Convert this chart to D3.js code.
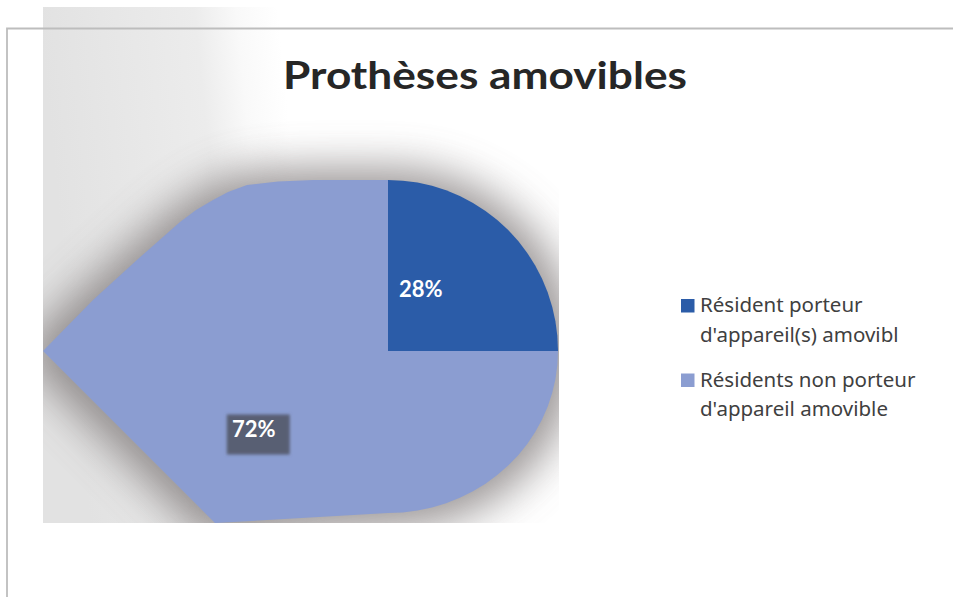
<!DOCTYPE html>
<html>
<head>
<meta charset="utf-8">
<script src="https://cdn.jsdelivr.net/npm/d3@7/dist/d3.min.js"></script>
<style>
  body { margin: 0; background: #fff; }
  svg { display: block; font-family: Lato, "Open Sans", sans-serif; }
</style>
</head>
<body>
<div id="chart"></div>
<script>
const title = "Prothèses amovibles";
const categories = [
  ["Résident porteur", "d'appareil(s) amovibl"],
  ["Résidents non porteur", "d'appareil amovible"]
];
const values = [28, 72];
const colors = ["#2b5ca8", "#8b9dd1"];

const width = 953, height = 597;
const plot = { x: 43, y: 7, w: 516, h: 516 };
const cx = 388, cy = 351;

const svg = d3.select("#chart").append("svg")
  .attr("width", width)
  .attr("height", height);

const defs = svg.append("defs");

const bg = defs.append("linearGradient").attr("id", "bg")
  .attr("x1", 0).attr("y1", 0.1).attr("x2", 1).attr("y2", 0);
[[0, "#e2e2e2"], [0.3, "#ececec"], [0.38, "#f9f9f9"], [0.46, "#ffffff"], [1, "#ffffff"]]
  .forEach(s => bg.append("stop").attr("offset", s[0]).attr("stop-color", s[1]));

defs.append("clipPath").attr("id", "plotClip")
  .append("rect").attr("x", plot.x).attr("y", plot.y).attr("width", plot.w).attr("height", plot.h);

defs.append("filter").attr("id", "shadow")
  .attr("x", -0.3).attr("y", -0.3).attr("width", 1.6).attr("height", 1.6)
  .append("feGaussianBlur").attr("stdDeviation", 20);

defs.append("filter").attr("id", "soft")
  .attr("x", -0.2).attr("y", -0.2).attr("width", 1.4).attr("height", 1.4)
  .append("feGaussianBlur").attr("stdDeviation", 1.6);

// plot area background
svg.append("rect")
  .attr("x", plot.x).attr("y", plot.y)
  .attr("width", plot.w).attr("height", plot.h)
  .attr("fill", "url(#bg)");

// frame lines
svg.append("path")
  .attr("d", `M7,${height}V28.5H${width}`)
  .attr("fill", "none")
  .attr("stroke", "#bdbdbd")
  .attr("stroke-width", 1.8);

// outline of the (stretched) pie, relative to the centre, clockwise from 12 o'clock
const rad = a => a * Math.PI / 180;
const outline = [
  ...d3.range(0, 90, 5).map(a => [170 * Math.sin(rad(a)), -171 * Math.cos(rad(a))]),
  ...d3.range(90, 180, 5).map(a => [170 * Math.sin(rad(a)), -162 * Math.cos(rad(a))]),
  [0, 162], [-173, 172], [-345, 0],
  [-295, -51], [-250, -92], [-208, -129], [-192, -141], [-175, -151],
  [-160, -159], [-141, -166], [-110, -169.5], [-75, -171], [-40, -171]
];

const angleOf = p => {
  let a = Math.atan2(p[0], -p[1]);
  return a < 0 ? a + 2 * Math.PI : a;
};

function rayHit(phi) {
  const dx = Math.sin(phi), dy = -Math.cos(phi);
  for (let i = 0; i < outline.length; i++) {
    const p = outline[i], q = outline[(i + 1) % outline.length];
    const ex = q[0] - p[0], ey = q[1] - p[1];
    const den = dx * ey - dy * ex;
    if (Math.abs(den) < 1e-9) continue;
    const t = (p[0] * ey - p[1] * ex) / den;
    const s = (p[0] * dy - p[1] * dx) / den;
    if (t > 0 && s >= -1e-9 && s <= 1 + 1e-9) return [t * dx, t * dy];
  }
  return [0, 0];
}

const pie = d3.pie().sort(null).value(d => d);
const arcs = pie(values);

// the picture squeezes the first slice into a quarter
const warp = d3.scaleLinear()
  .domain([0, arcs[0].endAngle, 2 * Math.PI])
  .range([0, Math.PI / 2, 2 * Math.PI]);

const line = d3.line().curve(d3.curveLinear);

function slicePath(d) {
  const a0 = warp(d.startAngle), a1 = warp(d.endAngle);
  const inside = outline
    .filter(p => { const a = angleOf(p); return a > a0 + 1e-6 && a < a1 - 1e-6; })
    .sort((p, q) => angleOf(p) - angleOf(q));
  const pts = [[0, 0], rayHit(a0), ...inside, rayHit(a1)];
  return line(pts) + "Z";
}

const pieG = svg.append("g");

// soft shadow behind the shape
pieG.append("g")
  .attr("clip-path", "url(#plotClip)")
  .append("path")
  .attr("transform", `translate(${cx + 4},${cy + 2}) scale(1.08)`)
  .attr("d", line(outline) + "Z")
  .attr("fill", "#6a6464")
  .attr("opacity", 0.68)
  .attr("filter", "url(#shadow)");

const slices = pieG.append("g").attr("transform", `translate(${cx},${cy})`);

slices.selectAll("path.slice")
  .data(arcs)
  .join("path")
  .attr("class", "slice")
  .attr("d", slicePath)
  .attr("fill", (d, i) => colors[i]);

// data labels
const total = d3.sum(values);
const pct = d3.format(".0%");
const labelPlace = [
  { da: -17, r: 70, box: false },
  { da: 15, r: 155, box: true }
];

const labels = slices.selectAll("g.label")
  .data(arcs)
  .join("g")
  .attr("class", "label")
  .attr("transform", (d, i) => {
    const a = warp((d.startAngle + d.endAngle) / 2) + rad(labelPlace[i].da);
    const r = labelPlace[i].r;
    return `translate(${r * Math.sin(a)},${-r * Math.cos(a)})`;
  });

labels.filter((d, i) => labelPlace[i].box)
  .append("rect")
  .attr("x", -27).attr("y", -14)
  .attr("width", 63).attr("height", 40)
  .attr("fill", "#585e73")
  .attr("filter", "url(#soft)");

labels.append("text")
  .attr("text-anchor", "middle")
  .attr("dy", 8)
  .attr("fill", "#fff")
  .attr("font-weight", 700)
  .attr("font-size", 22)
  .text(d => pct(d.value / total));

// title
svg.append("text")
  .attr("x", 485)
  .attr("y", 89)
  .attr("text-anchor", "middle")
  .attr("font-size", 38)
  .attr("font-weight", 700)
  .attr("fill", "#262626")
  .attr("textLength", 404)
  .attr("lengthAdjust", "spacingAndGlyphs")
  .text(title);

// legend
const legend = svg.append("g").attr("transform", "translate(681,299)");
const item = legend.selectAll("g")
  .data(categories)
  .join("g")
  .attr("transform", (d, i) => `translate(0,${i * 74.5})`);

item.append("rect")
  .attr("width", 13.5).attr("height", 13.5)
  .attr("fill", (d, i) => colors[i]);

item.append("text")
  .attr("x", 19)
  .attr("font-family", "'Noto Sans', 'Open Sans', sans-serif")
  .attr("font-size", 20.5)
  .attr("fill", "#404040")
  .selectAll("tspan")
  .data(d => d)
  .join("tspan")
  .attr("x", 19)
  .attr("y", (d, i) => 13 + i * 29.5)
  .text(d => d);
</script>
</body>
</html>
